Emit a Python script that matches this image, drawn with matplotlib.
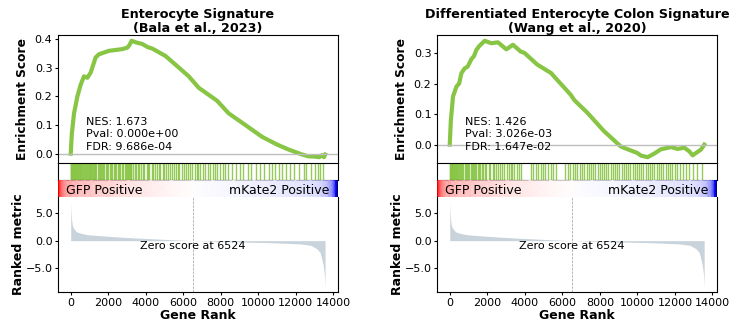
import matplotlib
matplotlib.use('Agg')
import matplotlib.pyplot as plt
import numpy as np
from matplotlib.colors import TwoSlopeNorm

### Data
# ranked metric (same ranking for both panels)
rank_pos = [0, 15, 40, 90, 150, 250, 350, 600, 900, 1300, 1600, 2500, 3400, 4500, 5500, 6524,
            7500, 8500, 9500, 10500, 11500, 12240, 12800, 13130, 13300, 13450, 13510, 13545, 13560]
rank_val = [7.2, 5.5, 4.0, 2.75, 2.3, 1.85, 1.55, 1.3, 1.1, 0.98, 0.9, 0.68, 0.5, 0.32, 0.15, 0.0,
            -0.1, -0.2, -0.28, -0.35, -0.48, -0.6, -0.85, -1.5, -2.2, -4.3, -5.8, -7.2, -8.6]
zero_score = 6524
pos_label = 'GFP Positive'
neg_label = 'mKate2 Positive'

# left panel
left_title = 'Enterocyte Signature\n(Bala et al., 2023)'
left_stats = ['NES: 1.673', 'Pval: 0.000e+00', 'FDR: 9.686e-04']
left_es_rank = [0, 60, 177, 356, 532, 708, 888, 1064, 1330, 1505, 2037, 2750, 3016, 3120, 3245,
                3500, 3814, 4100, 4346, 5054, 5600, 6293, 6826, 7800, 8420, 9576, 10200, 11000,
                11600, 11970, 12300, 12680, 13000, 13250, 13400, 13500, 13570]
left_es = [0.0, 0.07, 0.141, 0.2, 0.241, 0.27, 0.265, 0.283, 0.336, 0.347, 0.359, 0.365, 0.37,
           0.378, 0.394, 0.388, 0.383, 0.372, 0.367, 0.341, 0.31, 0.27, 0.23, 0.185, 0.141, 0.088,
           0.059, 0.032, 0.015, 0.006, -0.002, -0.009, -0.01, -0.012, -0.005, -0.012, -0.003]
left_hits = [0, 18, 41, 66, 90, 118, 150, 176, 205, 240, 262, 300, 331, 372, 410, 445, 490, 520,
             575, 610, 668, 702, 755, 810, 846, 905, 960, 1012, 1050, 1098, 1140, 1195, 1230, 1282,
             1320, 1371, 1440, 1490, 1555, 1602, 1680, 1745, 1790, 1870, 1935, 2010, 2068, 2150,
             2205, 2290, 2350, 2418, 2500, 2580, 2640, 2730, 2790, 2880, 2950, 3010, 3060, 3105,
             3150, 3198, 3235, 3330, 3410, 3480, 3590, 3650, 3760, 3830, 3920, 4050, 4110, 4200,
             4330, 4390, 4480, 4610, 4690, 4780, 4900, 4980, 5090, 5210, 5270, 5390, 5480, 5600,
             5700, 5790, 5930, 6020, 6150, 6260, 6340, 6480, 6610, 6720, 6790, 6910, 7060, 7150,
             7300, 7420, 7560, 7680, 7790, 7960, 8120, 8250, 8400, 8610, 8790, 9020, 9200, 9440,
             9610, 9880, 10090, 10300, 10560, 10720, 10900, 11080, 11250, 11470, 11700, 11890,
             12150, 12420, 12560, 12800, 13020, 13180, 13310, 13470]

# right panel
right_title = 'Differentiated Enterocyte Colon Signature\n(Wang et al., 2020)'
right_stats = ['NES: 1.426', 'Pval: 3.026e-03', 'FDR: 1.647e-02']
right_es_rank = [0, 60, 175, 356, 500, 622, 798, 950, 1154, 1293, 1420, 1559, 1862, 2218, 2570,
                 3016, 3368, 3777, 3990, 4666, 5410, 5549, 6437, 6650, 7326, 8209, 9097, 9310,
                 9986, 10198, 10550, 10906, 11260, 11582, 11794, 12145, 12502, 12770, 12944,
                 13390, 13566]
right_es = [0.0, 0.08, 0.158, 0.19, 0.2, 0.234, 0.25, 0.255, 0.28, 0.29, 0.31, 0.322, 0.34, 0.332,
            0.335, 0.312, 0.327, 0.305, 0.3, 0.262, 0.234, 0.224, 0.164, 0.145, 0.105, 0.045,
            -0.005, -0.011, -0.027, -0.036, -0.041, -0.029, -0.015, -0.011, -0.008, -0.014, -0.01,
            -0.022, -0.035, -0.016, 0.0]
right_hits = [0, 22, 48, 80, 112, 140, 178, 210, 250, 290, 335, 360, 410, 455, 500, 560, 620, 660,
              720, 790, 850, 905, 980, 1040, 1110, 1160, 1230, 1300, 1350, 1420, 1480, 1540, 1610,
              1700, 1790, 1860, 1950, 2070, 2160, 2290, 2380, 2470, 2580, 2690, 2800, 2900, 3050,
              3160, 3260, 3330, 3450, 3580, 3700, 3790, 4350, 4460, 4580, 4700, 4840, 4960, 5100,
              5230, 5380, 5520, 5650, 6150, 6280, 6420, 6560, 6690, 6800, 6920, 7050, 7160, 7290,
              7400, 7530, 7650, 7760, 7880, 8000, 8110, 8230, 8340, 8460, 8580, 8690, 8810, 8930,
              9040, 9160, 9270, 9390, 9510, 9620, 9740, 9860, 9970, 10090, 10210, 10320, 10440,
              10560, 10680, 10790, 10910, 11030, 11140, 11260, 11380, 11500, 11620, 11740, 11860,
              11990, 12130, 12280, 12430, 12590, 12760, 12950, 13180, 13420]

green = '#88C544'
plt.rcParams['font.family'] = 'DejaVu Sans'
plt.rcParams['xtick.labelsize'] = 8
plt.rcParams['ytick.labelsize'] = 8
plt.rcParams['axes.linewidth'] = 0.8

fig = plt.figure(figsize=(7.33, 3.23), dpi=100)


def gsea_panel(x0, title, es_rank, es, hits, stats, es_ticks):
    w = 0.382
    ax_es = fig.add_axes([x0, 0.4954, w, 0.3963])
    ax_hit = fig.add_axes([x0, 0.4427, w, 0.0527], sharex=ax_es)
    ax_cb = fig.add_axes([x0, 0.3901, w, 0.0526])
    ax_rk = fig.add_axes([x0, 0.096, w, 0.2941], sharex=ax_es)

    # running enrichment score
    ax_es.plot(es_rank, es, color=green, lw=3)
    ax_es.axhline(0, color='#BEBEBE', lw=1)
    ax_es.set_yticks(es_ticks)
    ax_es.yaxis.set_major_formatter('{x:.1f}')
    ax_es.tick_params(axis='y', length=2.5, pad=1.5)
    ax_es.tick_params(axis='x', bottom=False, labelbottom=False)
    ax_es.spines['bottom'].set_visible(False)
    ax_es.set_ylabel('Enrichment Score', fontsize=8.8, fontweight='bold', labelpad=4)
    ax_es.set_title(title, fontsize=9.2, fontweight='bold', pad=1.5, linespacing=1.05)
    for i, s in enumerate(stats):
        ax_es.text(0.1, 0.3 - 0.1 * i, s, fontsize=8, transform=ax_es.transAxes)

    # hits
    ax_hit.vlines(hits, 0, 1, color=green, lw=1.0, alpha=0.9,
                  transform=ax_hit.get_xaxis_transform())
    ax_hit.set_yticks([])
    ax_hit.tick_params(axis='x', bottom=False, labelbottom=False)

    # colour bar of the ranking
    cb_norm = TwoSlopeNorm(vcenter=0, vmin=min(rank_val), vmax=max(rank_val))
    ax_cb.pcolormesh(rank_pos, [0, 1], np.vstack([rank_val, rank_val]), shading='gouraud',
                     cmap='seismic', norm=cb_norm, alpha=0.8)
    ax_cb.set_xlim(rank_pos[0], rank_pos[-1])
    ax_cb.set_ylim(0, 1)
    ax_cb.axis('off')
    ax_cb.text(0.03, 0.4, pos_label, fontsize=9, va='center', ha='left', transform=ax_cb.transAxes)
    ax_cb.text(0.97, 0.4, neg_label, fontsize=9, va='center', ha='right', transform=ax_cb.transAxes)

    # ranked metric
    ax_rk.fill_between(rank_pos, rank_val, 0, color='#C9D3DB', lw=0)
    ax_rk.axvline(zero_score, color='#9A9A9A', ls='--', lw=0.5)
    ax_rk.text(zero_score, 0.48, 'Zero score at %d' % zero_score, fontsize=8, ha='center',
               va='center', transform=ax_rk.get_xaxis_transform())
    ax_rk.spines['top'].set_visible(False)
    ax_rk.set_yticks([5, 0, -5])
    ax_rk.yaxis.set_major_formatter('{x:.1f}')
    ax_rk.set_xticks([0, 2000, 4000, 6000, 8000, 10000, 12000, 14000])
    ax_rk.tick_params(length=2.5, pad=1.5)
    ax_rk.set_xlabel('Gene Rank', fontsize=9, fontweight='bold', labelpad=1)
    ax_rk.set_ylabel('Ranked metric', fontsize=9, fontweight='bold', labelpad=0.5)


gsea_panel(0.0791, left_title, left_es_rank, left_es, left_hits, left_stats,
           [0.0, 0.1, 0.2, 0.3, 0.4])
gsea_panel(0.5962, right_title, right_es_rank, right_es, right_hits, right_stats,
           [0.0, 0.1, 0.2, 0.3])

plt.savefig('out.png', dpi=100)
